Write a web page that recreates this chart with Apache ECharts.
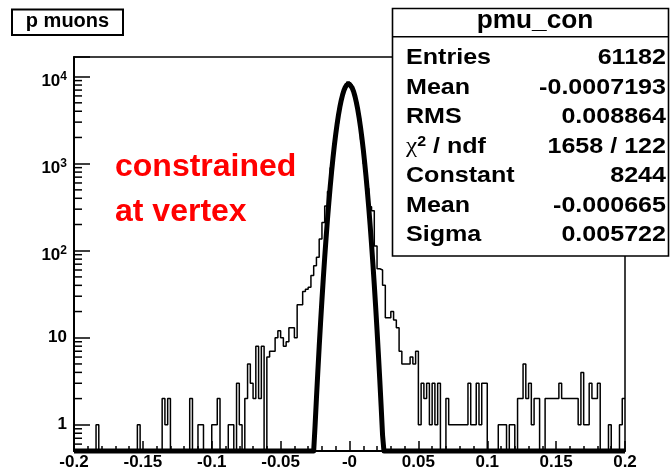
<!DOCTYPE html>
<html>
<head>
<meta charset="utf-8">
<script src="https://cdn.jsdelivr.net/npm/echarts@6/dist/echarts.min.js"></script>
<style>
html,body{margin:0;padding:0;background:#fff;}
#chart{width:672px;height:471px;}
</style>
</head>
<body>
<div id="chart"></div>
<script>
// ---- histogram definition (200 bins from -0.2 to 0.2) ----
const xMin = -0.2;
const xMax = 0.2;
const binWidth = 0.002;
const binCounts = [
  0,0,0,0,0,0,0,0,1,0,            // 0-9
  0,0,0,0,0,0,0,0,0,0,            // 10-19
  0,0,0,1,0,0,0,0,0,0,            // 20-29
  0,0,2,1,2,0,0,0,0,0,            // 30-39
  0,0,2,0,0,1,1,0,0,0,            // 40-49
  1,1,2,0,0,0,1,1,0,3,            // 50-59
  1,0,2,5,3,2,8,2,8,0,            // 60-69
  6,7,7,10,12,10,8,9,13,13,       // 70-79
  10,24,24,34,36,38,52,67,84,136, // 80-89
  211,327,480,900,1700,2900,4400,6100,7600,8700, // 90-99
  8000,6700,5000,3300,1900,1000,520,320,287,113, // 100-109
  62,60,40,17,17,20,16,13,7,5,    // 110-119
  5,5,6,5,7,1,3,2,3,1,            // 120-129
  3,1,3,0,0,2,1,1,1,1,            // 130-139
  1,1,1,3,1,1,3,1,3,3,            // 140-149
  0,0,0,0,1,1,1,0,1,1,            // 150-159
  0,2,2,5,2,3,1,2,2,0,            // 160-169
  0,2,2,2,2,2,3,2,2,2,            // 170-179
  2,2,2,1,4,1,1,3,2,2,            // 180-189
  3,0,0,0,1,0,0,0,1,2             // 190-199
];

// ---- fit (gaus) parameters from the stats box ----
const fitConstant = 8244;
const fitMean = -0.000665;
const fitSigma = 0.005722;
const fitSamples = 400;

// ---- axes ----
const yAxisMin = 0.5;
const yAxisMax = 16800;
const xTickInterval = 0.05;
const xTickLabels = ['-0.2','-0.15','-0.1','-0.05','-0','0.05','0.1','0.15','0.2'];
const yTickLabels = ['1','10','10^2','10^3','10^4'];
const yMinorTicks = [0.6,0.7,0.8,0.9,
  2,3,4,5,6,7,8,9,
  20,30,40,50,60,70,80,90,
  200,300,400,500,600,700,800,900,
  2000,3000,4000,5000,6000,7000,8000,9000];

// ---- texts ----
const titleText = 'p muons';
const statsTitle = 'pmu_con';
const statsNames = ['Entries','Mean','RMS','{c|\u03c7}{s|2}{b| / ndf}','Constant','Mean','Sigma'];
const statsValues = ['61182','-0.0007193','0.008864','1658 / 122','8244','-0.000665','0.005722'];
const noteLines = ['constrained','at vertex'];

// ---- build series data ----
const histData = binCounts.map((c, i) => [xMin + i * binWidth, Math.max(c, yAxisMin)]);
histData.push([xMax, Math.max(binCounts[binCounts.length - 1], yAxisMin)]);

const fitData = [];
for (let k = 0; k <= fitSamples; k++) {
  const x = xMin + (xMax - xMin) * k / fitSamples;
  const g = fitConstant * Math.exp(-0.5 * Math.pow((x - fitMean) / fitSigma, 2));
  fitData.push([x, Math.max(g, yAxisMin)]);
}

const FONT = '"Liberation Sans", Arial, Helvetica, sans-serif';

const chart = echarts.init(document.getElementById('chart'), null, {renderer: 'canvas'});

const graphics = [];
// title box
graphics.push({type:'rect', z:100, shape:{x:12, y:9.5, width:111, height:25.5},
  style:{fill:'#fff', stroke:'#000', lineWidth:2}});
graphics.push({type:'text', z:101, x:67.5, y:21.5,
  style:{text:titleText, font:'bold 20px ' + FONT, fill:'#000',
    align:'center', verticalAlign:'middle', textAlign:'center', textVerticalAlign:'middle'}});
// red note
noteLines.forEach((t, i) => {
  graphics.push({type:'text', z:101, x:115, y:167 + i * 45,
    style:{text:t, font:'bold 32px ' + FONT, fill:'#ff0000',
      align:'left', verticalAlign:'middle', textAlign:'left', textVerticalAlign:'middle'}});
});
// stats box
graphics.push({type:'rect', z:100, shape:{x:392.5, y:8.5, width:276, height:247.5},
  style:{fill:'#fff', stroke:'#000', lineWidth:1.6}});
graphics.push({type:'line', z:101, shape:{x1:392.5, y1:36.7, x2:668.5, y2:36.7},
  style:{stroke:'#000', lineWidth:1.6}});
graphics.push({type:'text', z:101, x:535, y:21, scaleX:1.05,
  style:{text:statsTitle, font:'bold 25px ' + FONT, fill:'#000',
    align:'center', verticalAlign:'middle', textAlign:'center', textVerticalAlign:'middle'}});
statsNames.forEach((name, i) => {
  const y = 58 + i * 29.5;
  graphics.push({type:'text', z:101, x:406, y:y, scaleX:1.14,
    style:{text:name, font:'bold 22px ' + FONT, fill:'#000',
      align:'left', verticalAlign:'middle', textAlign:'left', textVerticalAlign:'middle',
      rich:{
        c:{fontFamily:'"Liberation Serif", serif', fontSize:22, fontWeight:'normal', fill:'#000', color:'#000'},
        s:{fontFamily:FONT, fontSize:14, fontWeight:'bold', verticalAlign:'top', lineHeight:22, fill:'#000', color:'#000'},
        b:{fontFamily:FONT, fontSize:22, fontWeight:'bold', fill:'#000', color:'#000'}
      }}});
  graphics.push({type:'text', z:101, x:666, y:y, scaleX:1.14,
    style:{text:statsValues[i], font:'bold 22px ' + FONT, fill:'#000',
      align:'right', verticalAlign:'middle', textAlign:'right', textVerticalAlign:'middle'}});
});

const option = {
  backgroundColor: '#ffffff',
  animation: false,
  grid: {left:74, right:47, top:57, bottom:18, show:true, borderColor:'#000', borderWidth:1.5, containLabel:false},
  xAxis: {
    type:'value', min:xMin, max:xMax, interval:xTickInterval,
    axisLine:{show:true, onZero:false, lineStyle:{color:'#000', width:2}},
    axisTick:{show:true, inside:true, length:10, lineStyle:{color:'#000', width:1.5}},
    minorTick:{show:true, splitNumber:5, length:5, lineStyle:{color:'#000', width:1.5}},
    splitLine:{show:false},
    axisLabel:{margin:3, color:'#000', fontSize:17, fontWeight:'bold', fontFamily:FONT,
      showMinLabel:true, showMaxLabel:true,
      formatter: function (v) {
        const i = Math.round((v - xMin) / xTickInterval);
        if (Math.abs(v - (xMin + i * xTickInterval)) > 1e-9) return '';
        return xTickLabels[i] !== undefined ? xTickLabels[i] : '';
      }}
  },
  yAxis: {
    type:'log', logBase:10, min:yAxisMin, max:yAxisMax, position:'left',
    axisLine:{show:true, onZero:false, lineStyle:{color:'#000', width:2}},
    axisTick:{show:true, inside:true, length:16, lineStyle:{color:'#000', width:1.5}},
    splitLine:{show:false},
    axisLabel:{margin:7, color:'#000', fontFamily:FONT,
      formatter: function (v) {
        const lg = Math.log10(v);
        const k = Math.round(lg);
        if (Math.abs(lg - k) > 1e-6 || k < 0 || k >= yTickLabels.length) return '';
        const lab = yTickLabels[k];
        if (lab.indexOf('^') >= 0) {
          const parts = lab.split('^');
          return '{b|' + parts[0] + '}{s|' + parts[1] + '}';
        }
        return '{p|' + lab + '}';
      },
      rich:{
        p:{fontSize:17, fontWeight:'bold', fontFamily:FONT, color:'#000'},
        b:{fontSize:17, fontWeight:'bold', fontFamily:FONT, color:'#000', lineHeight:14, verticalAlign:'bottom'},
        s:{fontSize:12, fontWeight:'bold', fontFamily:FONT, color:'#000', lineHeight:26, verticalAlign:'middle'}
      }}
  },
  series: [
    {
      name:'pmu_con', type:'line', step:'end', data:histData, symbol:'none',
      lineStyle:{color:'#000', width:1.5}, z:3, silent:true
    },
    {
      name:'gaus', type:'line', data:fitData, symbol:'none', smooth:false, clip:false,
      lineStyle:{color:'#000', width:5, join:'round'}, z:4, silent:true
    },
    {
      name:'yMinorTicks', type:'custom', coordinateSystem:'cartesian2d', silent:true, z:5, clip:false,
      data: yMinorTicks.map(v => [xMin, v]),
      renderItem: function (params, api) {
        const p = api.coord([api.value(0), api.value(1)]);
        return {type:'line', shape:{x1:p[0], y1:p[1], x2:p[0] + 8, y2:p[1]},
          style:{stroke:'#000', lineWidth:1.5}};
      }
    }
  ],
  graphic: graphics
};
chart.setOption(option);
</script>
</body>
</html>
